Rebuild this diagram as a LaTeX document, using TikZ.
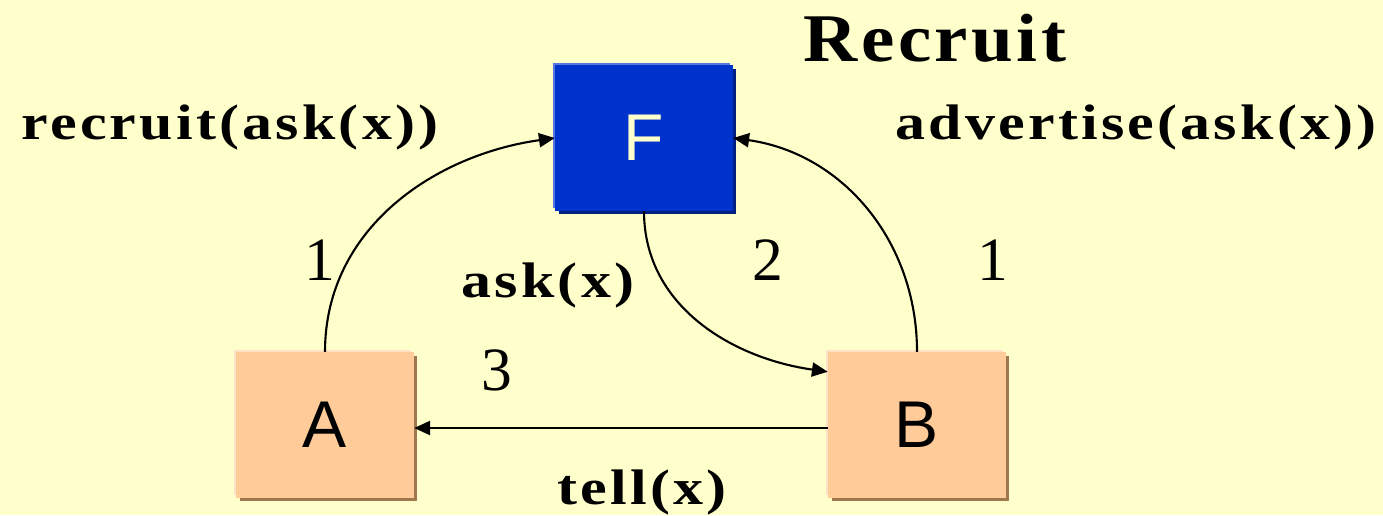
\documentclass[tikz,border=0pt]{standalone}
\usepackage{fontspec}
\setmainfont{Liberation Serif}
\newfontfamily\labfont[FakeStretch=1.2,LetterSpace=6.5]{Liberation Serif}
\newfontfamily\titlefont[FakeStretch=1.1,LetterSpace=5]{Liberation Serif}
\newfontfamily\boxfont{Liberation Sans}
\usetikzlibrary{arrows.meta,shadows,calc}
\definecolor{bg}{HTML}{FFFFCC}
\definecolor{fblue}{HTML}{0033CC}
\definecolor{fdark}{HTML}{001F80}
\definecolor{flight}{HTML}{5577E0}
\definecolor{peach}{HTML}{FFCC99}
\definecolor{pdark}{HTML}{A07850}
\definecolor{plight}{HTML}{FFE2C6}
\definecolor{cream}{HTML}{FFFFCC}
\begin{document}
\begin{tikzpicture}[x=0.01cm,y=0.01cm,
  boxbase/.style={minimum width=1.77cm,minimum height=1.45cm,inner sep=0pt,font=\boxfont\fontsize{18.8}{20}\selectfont},
  fbox/.style={boxbase,fill=fblue,text=cream,
    general shadow={fill=flight,shadow xshift=-0.6pt,shadow yshift=0.6pt},
    general shadow={fill=fdark,shadow xshift=0.9pt,shadow yshift=-0.9pt}},
  pbox/.style={boxbase,fill=peach,text=black,
    general shadow={fill=plight,shadow xshift=-0.6pt,shadow yshift=0.6pt},
    general shadow={fill=pdark,shadow xshift=0.9pt,shadow yshift=-0.9pt}},
  conn/.style={line width=0.6pt,-{Triangle[length=4.5pt,width=4pt]}},
  lab/.style={font=\labfont\bfseries\fontsize{14.2}{16}\selectfont,inner sep=0pt},
  num/.style={font=\fontsize{17.5}{19}\selectfont,inner sep=0pt}]
\fill[bg] (0,0) rectangle (1383,-515);
\useasboundingbox (0,0) rectangle (1383,-515);
\node[fbox] (F) at (644,-138) {F};
\node[pbox] (A) at (325,-425) {A};
\node[pbox] (B) at (917,-425) {B};
\coordinate (Bin) at ($(B.north west)+(0,-20)$);
\draw[conn] (A.north) to[out=90,in=188] (F.west);
\draw[conn] (B.north) to[out=90,in=-8] (F.east);
\draw[conn] (F.south) to[out=-90,in=172] (Bin);
\draw[conn] (B.west |- 0,-428) -- (A.east |- 0,-428);
\node[font=\titlefont\bfseries\fontsize{19.4}{22}\selectfont,inner sep=0pt] (title) at (935,-38) {Recruit};
\node[lab] (l1) at (230,-127) {recruit(ask(x))};
\node[lab] (l2) at (1136,-127) {advertise(ask(x))};
\node[lab] (l3) at (548,-285) {ask(x)};
\node[lab] (l4) at (642,-492) {tell(x)};
\node[num] (n1) at (320,-260) {1};
\node[num] (n2) at (768,-260) {2};
\node[num] (n3) at (993,-260) {1};
\node[num] (n4) at (497,-370) {3};
\end{tikzpicture}
\end{document}
